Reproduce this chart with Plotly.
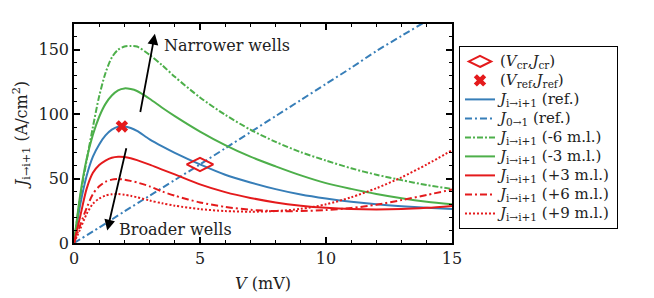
import plotly.graph_objects as go

V = [0, 0.25, 0.5, 0.75, 1, 1.25, 1.5, 1.75, 2, 2.25, 2.5, 3, 3.5, 4, 5, 6, 7, 8, 9, 10, 11, 12, 13, 14, 15]

J_ref = [0, 30, 52, 67, 76.5, 83.5, 88, 90.3, 90.5, 89.3, 87, 80.5, 75, 70, 61, 53, 47, 41.8, 37.6, 34.5, 32, 30, 28.5, 27.3, 26.4]
J_m3 = [0, 38, 65, 84, 98, 108, 114.5, 118.5, 120, 119.5, 118, 112, 105, 98.5, 86.5, 76, 67, 59.5, 52.5, 46.5, 42, 38, 34.7, 32, 30]
J_m6 = [0, 36, 64, 90, 114, 132, 144, 150, 152.5, 153, 152.5, 146, 138, 129, 113, 99.5, 88, 78.5, 70.5, 64, 58, 53, 48.8, 45, 42]
J_p3 = [0, 21, 42, 54.5, 60.5, 64, 66.2, 67, 66.8, 65.8, 64.3, 60.8, 57, 53.3, 45.5, 39.5, 35, 31.5, 29, 27.3, 26.3, 26, 26.3, 27.3, 28.8]
J_p6 = [0, 14, 27, 38, 44, 47.5, 49.2, 49.6, 49.2, 48.2, 47, 44, 40, 36.7, 31.5, 28, 25.8, 24.8, 24.8, 25.6, 27.2, 29.7, 33.3, 37.3, 41.5]
J_p9 = [0, 11, 22.5, 30.5, 34.5, 36.8, 37.8, 38, 37.5, 36.6, 35.5, 33, 30.8, 29, 26.3, 24.8, 24.3, 24.8, 26.5, 30, 35.5, 42.5, 51, 61, 72]

V_lin = [0, 1, 2, 3, 4, 5, 6, 7, 8, 9, 10, 11, 12, 13, 14, 15]
J_01 = [0, 12, 24.5, 36.7, 48.9, 61, 73.5, 86, 98.5, 111, 123.5, 136, 149, 160.8, 172.5, 184.5]

V_cr, J_cr = [5.0], [61.0]
V_ref, J_refpt = [1.9], [90.5]

BLUE = "#377eb8"
GREEN = "#4daf4a"
RED = "#e41a1c"
FONT = "DejaVu Serif"

def lg(text):
    return '<span style="font-size:15px">' + text + '</span>'

fig = go.Figure()

def line(x, y, name, color, dash, rank):
    fig.add_trace(go.Scatter(x=x, y=y, mode="lines", name=lg(name), legendrank=rank,
                             line=dict(color=color, width=2, dash=dash, shape="spline", smoothing=0.8)))

line(V, J_ref, "<i>J</i><sub>i→i+1</sub> (ref.)", BLUE, "solid", 3)
line(V_lin, J_01, "<i>J</i><sub>0→1</sub> (ref.)", BLUE, "7px,3px,2px,3px", 4)
line(V, J_m6, "<i>J</i><sub>i→i+1</sub> (-6 m.l.)", GREEN, "6px,2px,2px,2px", 5)
line(V, J_m3, "<i>J</i><sub>i→i+1</sub> (-3 m.l.)", GREEN, "solid", 6)
line(V, J_p3, "<i>J</i><sub>i→i+1</sub> (+3 m.l.)", RED, "solid", 7)
line(V, J_p6, "<i>J</i><sub>i→i+1</sub> (+6 m.l.)", RED, "7px,3px,2px,3px", 8)
line(V, J_p9, "<i>J</i><sub>i→i+1</sub> (+9 m.l.)", RED, "2px,2px", 9)

fig.add_trace(go.Scatter(x=V_cr, y=J_cr, mode="markers", name=lg("(<i>V</i><sub>cr</sub>,<i>J</i><sub>cr</sub>)"),
                         legendrank=1,
                         marker=dict(symbol="diamond-wide-open", size=19, color=RED, line=dict(width=2, color=RED))))
fig.add_trace(go.Scatter(x=V_ref, y=J_refpt, mode="markers", name=lg("(<i>V</i><sub>ref</sub>,<i>J</i><sub>ref</sub>)"),
                         legendrank=2,
                         marker=dict(symbol="x", size=11, color=RED, line=dict(width=0))))

# arrows
fig.add_annotation(x=3.21, y=162.4, ax=2.62, ay=100.5, xref="x", yref="y", axref="x", ayref="y",
                   showarrow=True, arrowhead=2, arrowsize=1.2, arrowwidth=1.8, arrowcolor="black", text="")
fig.add_annotation(x=1.32, y=9.7, ax=2.09, ay=74.7, xref="x", yref="y", axref="x", ayref="y",
                   showarrow=True, arrowhead=2, arrowsize=1.2, arrowwidth=1.8, arrowcolor="black", text="")
fig.add_annotation(x=3.48, y=153, xref="x", yref="y", text="Narrower wells", showarrow=False,
                   xanchor="left", yanchor="middle", font=dict(family=FONT, size=16, color="#222"))
fig.add_annotation(x=1.72, y=10.3, xref="x", yref="y", text="Broader wells", showarrow=False,
                   xanchor="left", yanchor="middle", font=dict(family=FONT, size=16, color="#222"))

axis_common = dict(showline=True, linecolor="black", linewidth=1.5, mirror="allticks",
                   ticks="inside", ticklen=6, tickwidth=1.5, tickcolor="black",
                   showgrid=False, zeroline=False, automargin=False,
                   tickfont=dict(family=FONT, size=16, color="#222"))

fig.update_xaxes(range=[0, 15], tickvals=[0, 5, 10, 15],
                 minor=dict(ticks="inside", ticklen=3.5, tickwidth=1, tickcolor="black", dtick=1, showgrid=False),
                 title=dict(text="<i>V</i> (mV)", font=dict(family=FONT, size=16, color="#222"), standoff=11),
                 **axis_common)
fig.update_yaxes(range=[0, 170], tickvals=[0, 50, 100, 150],
                 minor=dict(ticks="inside", ticklen=3.5, tickwidth=1, tickcolor="black", dtick=10, showgrid=False),
                 title=dict(text="<i>J</i><sub>i→i+1</sub> (A/cm<sup>2</sup>)", font=dict(family=FONT, size=16, color="#222"), standoff=7),
                 **axis_common)

fig.update_layout(
    width=646, height=290,
    margin=dict(l=66, r=202, t=16, b=55),
    plot_bgcolor="white", paper_bgcolor="white",
    showlegend=True,
    legend=dict(x=1.0185, y=0.90, xanchor="left", yanchor="top",
                bordercolor="black", borderwidth=1, bgcolor="white",
                itemwidth=30, tracegroupgap=0,
                font=dict(family=FONT, size=12, color="#222")),
)

fig.write_html("out.html")
